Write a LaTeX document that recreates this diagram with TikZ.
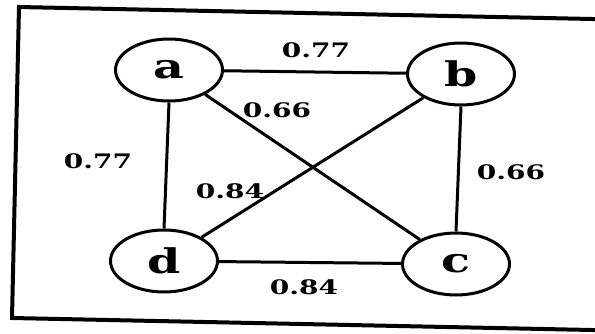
\documentclass[tikz,border=0pt]{standalone}
\usepackage{fontspec}
\setmainfont{DejaVu Serif}[FakeStretch=1.4]
\usetikzlibrary{shapes.geometric}
\tikzset{
  vert/.style={draw, ellipse, line width=3pt, minimum width=107pt, minimum height=62pt, inner sep=0pt, font=\fontsize{34}{34}\selectfont\bfseries},
  edge/.style={line width=3pt},
  wlab/.style={font=\fontsize{20}{20}\selectfont\bfseries, inner sep=0pt}
}
\begin{document}
\begin{tikzpicture}[x=1pt,y=-1pt]
\useasboundingbox (0,0) rectangle (595,333);
\begin{scope}
\clip (0,0) rectangle (595,333);
\draw[line width=4pt] (640,20) -- (19,7) -- (12,318) -- (640,331);
\end{scope}
\node[vert] (a) at (169,70) {a};
\node[vert] (b) at (461,74) {b};
\node[vert] (d) at (164,261) {d};
\node[vert] (c) at (456,264) {c};
\draw[edge] (a) -- (b);
\draw[edge] (a.south) -- (d.north);
\draw[edge] (b.south) -- (c.north);
\draw[edge] (d) -- (c);
\draw[edge] (a) -- (c);
\draw[edge] (b) -- (d);
\node[wlab] (l1) at (316,50) {0.77};
\node[wlab] (l2) at (277,110) {0.66};
\node[wlab] (l3) at (98,161) {0.77};
\node[wlab] (l4) at (230,191) {0.84};
\node[wlab] (l5) at (511,172) {0.66};
\node[wlab] (l6) at (304,287) {0.84};
\end{tikzpicture}
\end{document}
